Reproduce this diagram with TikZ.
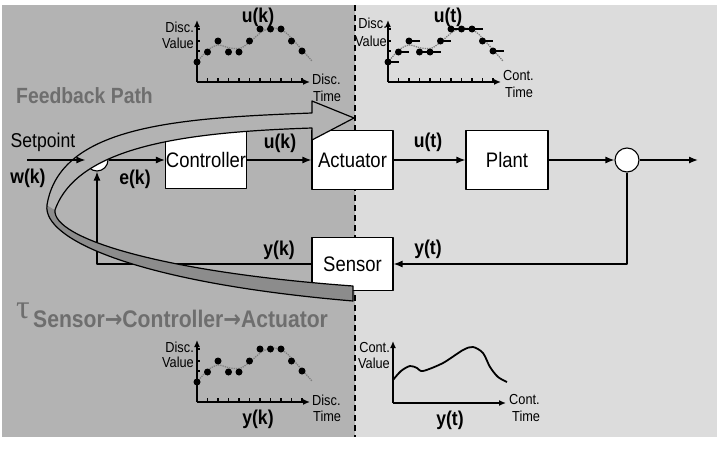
\documentclass[tikz,border=0pt]{standalone}
\usepackage{fontspec}
\setmainfont{Liberation Sans}[FakeStretch=0.88]
\newfontfamily\arrowfont{DejaVu Sans}[FakeStretch=0.88]
\newfontfamily\greekfont{Liberation Serif}
\usetikzlibrary{arrows.meta,calc}
\definecolor{darkbg}{HTML}{B3B3B3}
\definecolor{lightbg}{HTML}{DCDCDC}
\definecolor{labelgray}{HTML}{6E6E6E}
\definecolor{backside}{HTML}{8C8C8C}
\newcommand{\plotaxes}{%
  \draw[axis] (0,0) -- (113,0);
  \draw[axis] (0,0) -- (0,-62);
}
\newcommand{\plotticks}{%
  \foreach \k in {1,...,10}{\draw[tick] (10.5*\k,0) -- ++(0,-4);}
  \foreach \v in {20,31,41,53}{\draw[tick] (0,-\v) -- ++(3,0);}
}
\newcommand{\plottrend}{%
  \draw[trend] plot[smooth] coordinates {(0,-20) (11,-32) (21,-37) (33,-34) (44,-34) (55,-42) (66,-51) (77,-54) (88,-50) (98,-40) (107,-30) (115,-21)};
}
\newcommand{\toarrow}{{\arrowfont\bfseries →}}
\def\samples{0/20,10.5/30,21/41,31.5/30,42/30,52.5/41,63/53,73.5/53,84/53,94.5/41,105/31}

\begin{document}
\begin{tikzpicture}[x=1pt, y=-1pt, line join=round, >=Latex]
\tikzset{
  block/.style={draw, line width=1.1pt, fill=white, inner sep=0pt, minimum width=81pt, minimum height=57pt, font=\fontsize{21}{24}\selectfont},
  sumnode/.style={circle, draw, line width=1.1pt, fill=white, inner sep=0pt, minimum size=22pt},
  signal/.style={-{Latex[length=9pt,width=7pt]}, line width=1.3pt},
  sig/.style={inner sep=0pt, font=\bfseries\fontsize{20}{22}\selectfont},
  axis/.style={-{Latex[length=7pt,width=6pt]}, line width=1.8pt},
  tick/.style={line width=1.3pt},
  trend/.style={densely dotted, line width=1.3pt, gray},
  hold/.style={line width=1.8pt},
  small/.style={inner sep=0pt, font=\fontsize{14.5}{16}\selectfont},
  ptitle/.style={inner sep=0pt, font=\bfseries\fontsize{20}{22}\selectfont},
  ribbon/.style={line width=1.2pt, line join=round}
}
\useasboundingbox (0,0) rectangle (720,450);

% backgrounds
\fill[white] (0,0) rectangle (720,450);
\fill[darkbg] (2,5) rectangle (355,437);
\fill[lightbg] (355,5) rectangle (717,437);
\draw[line width=1.3pt, dash pattern=on 6pt off 4pt] (355,5) -- (355,437);

% blocks
\node[block] (ctrl) at (206,160) {Controller};
\node[block, minimum height=59pt] (act) at (352.5,160) {Actuator};
\node[block, minimum width=82pt, minimum height=59pt] (plant) at (507,160) {Plant};
\node[block, minimum height=53pt] (sens) at (352.5,264) {Sensor};
\node[sumnode] (sum) at (97,160) {};
\node[sumnode, minimum size=24pt] (dist) at (627,160) {};
\coordinate (setp) at (27,160);
\coordinate (out) at (698,160);

% signals
\draw[signal] (sum) -- (ctrl);
\draw[signal] (ctrl) -- (act);
\draw[signal] (act) -- (plant);
\draw[signal] (plant) -- (dist);
\draw[signal] (dist) -- (out);
\draw[signal] (dist.south) |- (sens.east);
\draw[signal] (sens.west) -| (sum.south);

% signal labels
\node[inner sep=0pt, font=\fontsize{20}{22}\selectfont] (setlbl) at (43,142) {Setpoint};
\node[sig] (wk) at (28,178) {w(k)};
\node[sig] (ek) at (135,179) {e(k)};
\node[sig] (uk) at (280,143) {u(k)};
\node[sig] (ut) at (428,142) {u(t)};
\node[sig] (yt) at (428,249) {y(t)};
\node[sig] (yk) at (279,250) {y(k)};

% feedback path ribbon
\coordinate (hA) at (312,101);
\coordinate (hT) at (354,118);
\coordinate (hB) at (312,140);
\coordinate (sO) at (312,113);
\coordinate (sI) at (312,128);
\coordinate (tO) at (47,205);
\coordinate (tI) at (55,210);
\coordinate (eO) at (353,301);
\coordinate (eI) at (353,286);
\fill[backside] (tO) .. controls (42,240) and (140,283) .. (eO) -- (eI)
  .. controls (160,272) and (52,238) .. (tI) -- cycle;
\fill[darkbg] (hA) -- (hT) -- (hB) -- (sI) .. controls (190,132) and (78,145) .. (tI)
  -- (tO) .. controls (60,125) and (180,118) .. (sO) -- cycle;
\draw[ribbon] (hB) -- (hT) -- (hA) -- (sO) .. controls (180,118) and (60,125) .. (tO)
  .. controls (42,240) and (140,283) .. (eO) -- (eI)
  .. controls (160,272) and (52,238) .. (tI)
  .. controls (78,145) and (190,132) .. (sI) -- cycle;
\draw[signal] (setp) -- (sum.west);

\node[inner sep=0pt, anchor=base west, text=labelgray, font=\bfseries\fontsize{22}{24}\selectfont] (fbpath) at (16,103) {Feedback Path};
\node[inner sep=0pt, anchor=base west, text=labelgray, font=\greekfont\fontsize{34}{34}\selectfont] (tau) at (16,318) {τ};
\node[inner sep=0pt, anchor=base west, text=labelgray, font=\bfseries\fontsize{24}{26}\selectfont] (tausub) at (33,327) {Sensor\toarrow Controller\toarrow Actuator};

% u(k): discrete value, discrete time
\begin{scope}[shift={(197,82)}]
  \plotaxes \plotticks \plottrend
  \foreach \x/\v in \samples {\fill (\x,-\v) circle (3.5);}
  \node[small, anchor=east] (ukD) at (-3,-55) {Disc.};
  \node[small, anchor=east] (ukV) at (-3,-39) {Value};
  \node[small, anchor=west] (ukX) at (115,-3) {Disc.};
  \node[small, anchor=west] (ukT) at (116,14) {Time};
  \node[ptitle] (ukttl) at (61,-65) {u(k)};
\end{scope}

% u(t): discrete value, continuous time
\begin{scope}[shift={(388,82)}]
  \plotaxes \plotticks \plottrend
  \foreach \x/\v in \samples {\fill (\x,-\v) circle (3.5); \draw[hold] (\x,-\v) -- ++(10.5,0);}
  \node[small, anchor=east] (utD) at (-1,-59) {Disc.};
  \node[small, anchor=east] (utV) at (-1,-41) {Value};
  \node[small, anchor=west] (utX) at (115,-6) {Cont.};
  \node[small, anchor=west] (utT) at (117,10) {Time};
  \node[ptitle] (utttl) at (60,-65) {u(t)};
\end{scope}

% y(k): discrete value, discrete time
\begin{scope}[shift={(197,402)}]
  \plotaxes \plotticks \plottrend
  \foreach \x/\v in \samples {\fill (\x,-\v) circle (3.5);}
  \node[small, anchor=east] (ykD) at (-3,-55) {Disc.};
  \node[small, anchor=east] (ykV) at (-3,-40) {Value};
  \node[small, anchor=west] (ykX) at (115,-2) {Disc.};
  \node[small, anchor=west] (ykT) at (116,14) {Time};
  \node[ptitle] (ykttl) at (61,17) {y(k)};
\end{scope}

% y(t): continuous value, continuous time
\begin{scope}[shift={(393,403)}]
  \plotaxes
  \draw[line width=1.8pt] plot[smooth] coordinates {(0,-23) (8,-32) (17,-37) (24,-35) (30,-32) (50,-40) (70,-53) (80,-56) (90,-50) (97,-36) (105,-26) (114,-21)};
  \node[small, anchor=east] (ytD) at (-3,-55) {Cont.};
  \node[small, anchor=east] (ytV) at (-3,-40) {Value};
  \node[small, anchor=west] (ytX) at (116,-3) {Cont.};
  \node[small, anchor=west] (ytT) at (119,13) {Time};
  \node[ptitle] (ytttl) at (57,17) {y(t)};
\end{scope}
\end{tikzpicture}
\end{document}
